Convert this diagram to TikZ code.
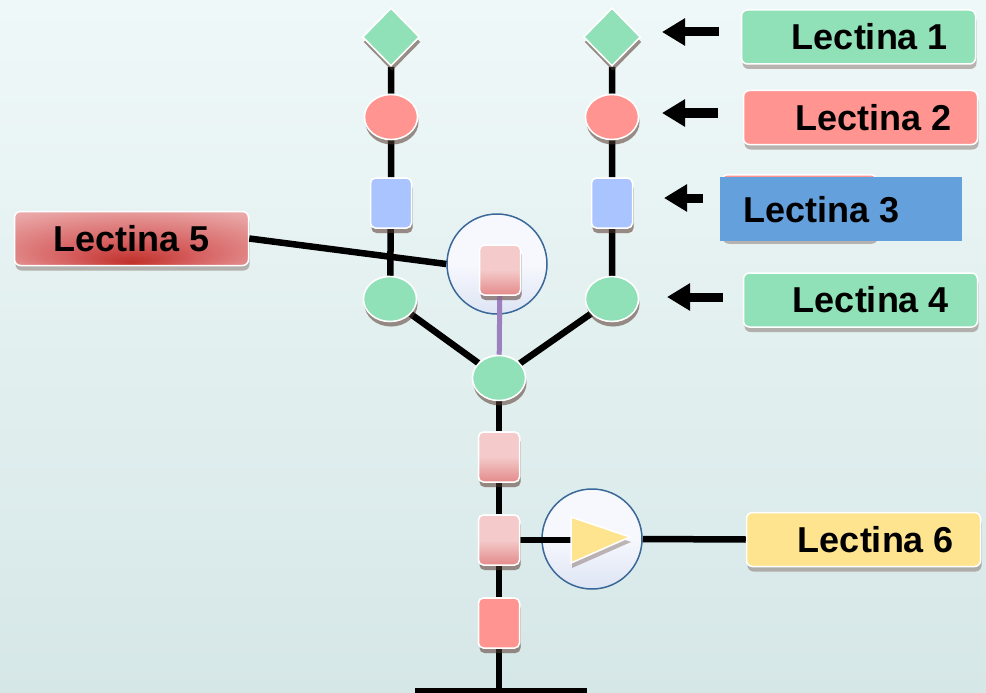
\documentclass[tikz,border=0pt]{standalone}
\usepackage{fontspec}
\setmainfont{Liberation Sans}
\usetikzlibrary{shapes.geometric,shadows,arrows.meta}
\definecolor{bgtop}{HTML}{EFF8F8}
\definecolor{bgbot}{HTML}{D6E7E7}
\definecolor{gr}{HTML}{90E0B8}
\definecolor{rd}{HTML}{FF9490}
\definecolor{bl}{HTML}{AAC4FF}
\definecolor{bll}{HTML}{64A0DC}
\definecolor{yl}{HTML}{FFE490}
\definecolor{pkl}{HTML}{F4CACA}
\definecolor{pkd}{HTML}{E48A8A}
\definecolor{rdd}{HTML}{C0302A}
\definecolor{rdm}{HTML}{D66060}
\definecolor{rdn}{HTML}{E8A0A0}
\definecolor{rdl}{HTML}{F3C6C6}
\definecolor{circ}{HTML}{F6F8FD}
\definecolor{circb}{HTML}{DDE4F4}
\definecolor{circl}{HTML}{3A6898}
\definecolor{pur}{HTML}{9C80C0}
\definecolor{shd}{HTML}{6A5048}
\pgfdeclareradialshading{labfive}{\pgfpoint{0bp}{-22bp}}{color(0bp)=(rdd); color(14bp)=(rdm); color(34bp)=(rdn); color(50bp)=(rdl)}
\tikzset{
  shad/.style={drop shadow={shadow xshift=1pt, shadow yshift=-5pt, opacity=0.4, fill=shd}},
  glossy/.style={draw=white, line width=1.5pt, shad},
  lab/.style={glossy, rounded corners=6pt, minimum width=234pt, minimum height=54pt, inner sep=0pt,
    font=\fontsize{36}{40}\selectfont\bfseries},
  dia/.style={diamond, aspect=1, minimum width=57pt, minimum height=58pt, inner sep=0pt, fill=gr, glossy},
  ell/.style={ellipse, minimum width=53pt, minimum height=45pt, inner sep=0pt, glossy},
  sq/.style={rectangle, rounded corners=5pt, minimum width=41pt, minimum height=50pt, inner sep=0pt, glossy},
  pinksq/.style={sq, top color=pkl, bottom color=pkd, middle color=pkl},
  bigc/.style={circle, minimum size=100pt, inner sep=0pt, draw=circl, line width=1.5pt, top color=circ, bottom color=circb, middle color=circ},
  conn/.style={line width=6.5pt, draw=black},
  arr/.style={line width=9pt, -{Triangle[length=23pt,width=26pt]}},
}
\begin{document}
\begin{tikzpicture}[x=1pt,y=-1pt]
\useasboundingbox (0,0) rectangle (986,693);
\shade[top color=bgtop, bottom color=bgbot] (0,0) rectangle (986,693);

% big circles
\node[bigc] (c1) at (497,264) {};
\node[bigc] (c2) at (592,539) {};

% node positions
\path
  (391,37) node[dia] (ld) {}
  (391,117) node[ell, fill=rd] (le) {}
  (391,203) node[sq, fill=bl] (lb) {}
  (390,299) node[ell, fill=gr] (lg) {}
  (612,37) node[dia] (rdi) {}
  (612,117) node[ell, fill=rd] (re) {}
  (612,203) node[sq, fill=bl] (rb) {}
  (612,299) node[ell, fill=gr] (rg) {}
  (500,270) node[pinksq] (cp) {}
  (499,378) node[ell, fill=gr] (cg) {}
  (499,457) node[pinksq] (p1) {}
  (499,540) node[pinksq] (p2) {}
  (499,623) node[sq, fill=rd] (p3) {};

\coordinate (bot) at (499,690);
\coordinate (botl) at (415,690);
\coordinate (botr) at (587,690);
\coordinate (trib) at (571,540);

% connectors
\draw[conn] (ld) -- (le) -- (lb) -- (lg) -- (cg);
\draw[conn] (rdi) -- (re) -- (rb) -- (rg) -- (cg);
\draw[conn] (cg) -- (p1) -- (p2) -- (p3) -- (bot);
\draw[line width=5pt] (botl) -- (botr);
\draw[line width=5pt, draw=pur] (cp) -- (cg);
\draw[conn] (p2) -- (trib);

% nodes drawn again on top of the connectors
\node[dia] at (ld) {};
\node[ell, fill=rd] at (le) {};
\node[sq, fill=bl] at (lb) {};
\node[ell, fill=gr] at (lg) {};
\node[dia] at (rdi) {};
\node[ell, fill=rd] at (re) {};
\node[sq, fill=bl] at (rb) {};
\node[ell, fill=gr] at (rg) {};
\node[ell, fill=gr] at (cg) {};
\node[pinksq] at (p1) {};
\node[pinksq] at (p2) {};
\node[sq, fill=rd] at (p3) {};
\node[pinksq] at (cp) {};

% triangle in circle 2
\fill[yl, draw=white, line width=1.5pt, shad] (571,517) -- (630,537) -- (571,563) -- cycle;

% labels
\node[lab, fill=gr] (l1) at (858.5,37) {\hspace*{23pt}Lectina 1};
\node[lab, fill=rd] (l2) at (860.5,117.5) {\hspace*{26pt}Lectina 2};
\node[lab, fill=rd, minimum width=155pt, minimum height=64pt, anchor=north west] (l3b) at (721,174) {};
\node[rectangle, fill=bll, minimum width=242pt, minimum height=64pt, inner sep=0pt, anchor=north west,
      font=\fontsize{36}{40}\selectfont\bfseries] (l3) at (720,177) {Lectina 3\hspace*{40pt}};
\node[lab, fill=gr] (l4) at (860.5,300) {\hspace*{21pt}Lectina 4};
\node[lab, shading=labfive] (l5) at (131.5,238.5) {Lectina 5};
\node[lab, fill=yl] (l6) at (863.5,539.5) {\hspace*{25pt}Lectina 6};

% label connectors
\draw[conn] (l5.east) -- (c1.west);
\draw[conn] (c2.east) -- (l6.west);

% arrows
\coordinate (a1s) at (719,32); \coordinate (a1e) at (662,32);
\coordinate (a2s) at (718,113); \coordinate (a2e) at (662,113);
\coordinate (a3s) at (703,198); \coordinate (a3e) at (664,198);
\coordinate (a4s) at (723,297); \coordinate (a4e) at (667,297);
\draw[arr] (a1s) -- (a1e);
\draw[arr] (a2s) -- (a2e);
\draw[arr] (a3s) -- (a3e);
\draw[arr] (a4s) -- (a4e);
\end{tikzpicture}
\end{document}
